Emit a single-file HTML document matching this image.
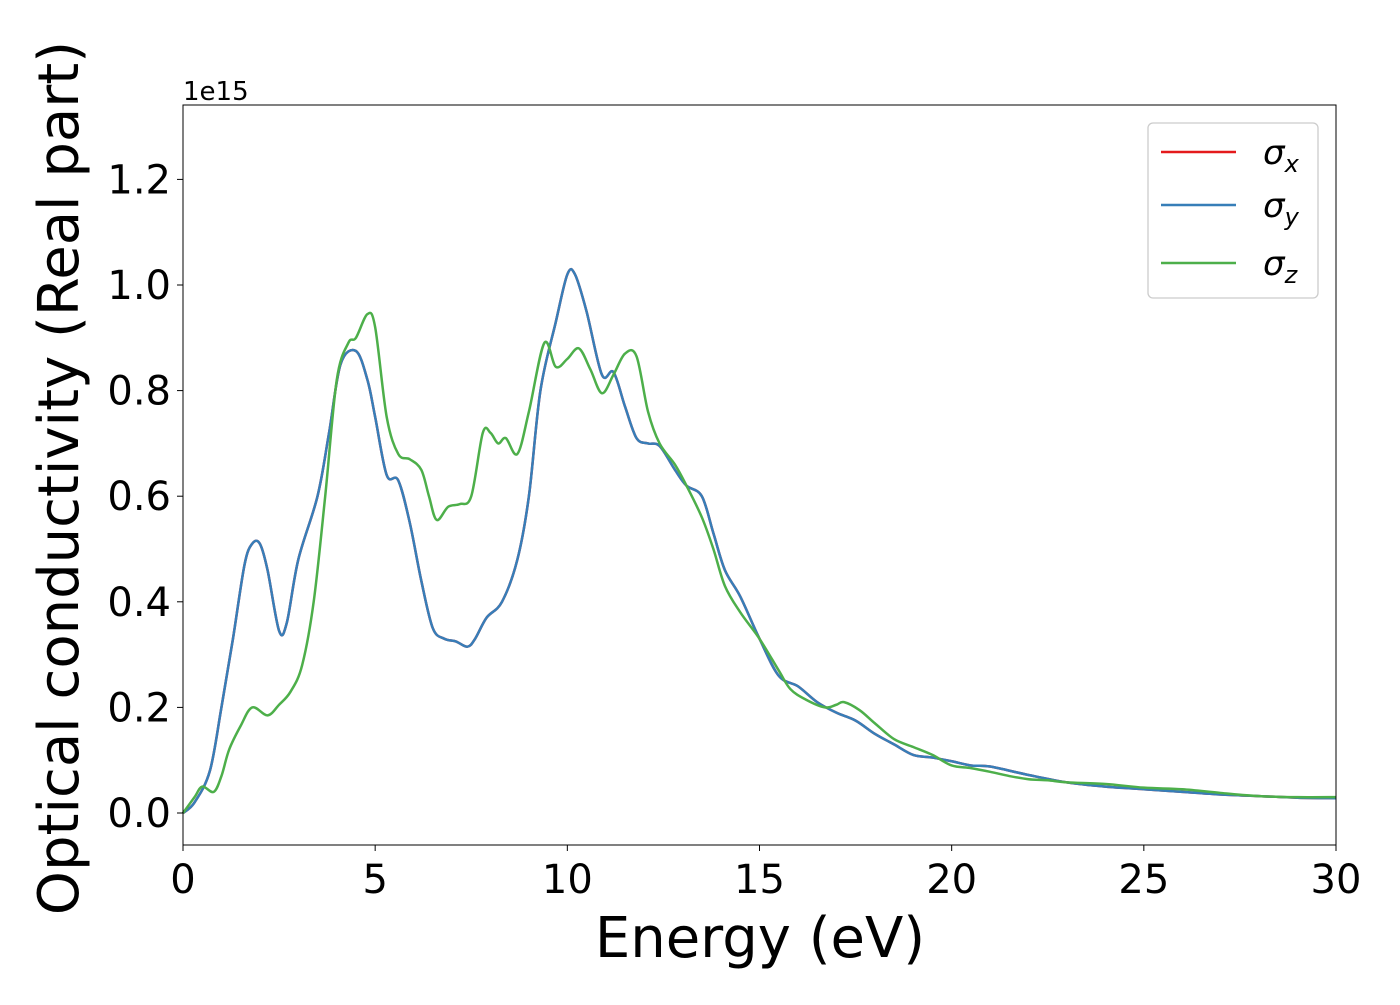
<!DOCTYPE html>
<html><head><meta charset="utf-8"><style>
body{margin:0;background:#fff;}
svg text{font-family:"DejaVu Sans","Liberation Sans",sans-serif;fill:#000;}
</style></head><body>
<svg id="chart" width="1400" height="1000">
<rect width="1400" height="1000" fill="#fff"/>
<g id="plot"></g>
<g id="axes"></g>
<text x="183" y="100" font-size="26">1e15</text>
<text x="760" y="957" font-size="56" text-anchor="middle">Energy (eV)</text>
<text transform="translate(78,478) rotate(-90)" font-size="56" text-anchor="middle">Optical conductivity (Real part)</text>
<g>
<rect x="1148" y="123" width="170" height="175" rx="5" fill="#fff" stroke="#ccc" stroke-width="1.3"/>
<line x1="1161" y1="152" x2="1236" y2="152" stroke="#e41a1c" stroke-width="2.5"/>
<line x1="1161" y1="205" x2="1236" y2="205" stroke="#377eb8" stroke-width="2.5"/>
<line x1="1161" y1="263" x2="1236" y2="263" stroke="#4daf4a" stroke-width="2.5"/>
<text x="1263" y="164" font-size="34" font-style="italic">σ<tspan font-size="24" dy="8">x</tspan></text>
<text x="1263" y="217" font-size="34" font-style="italic">σ<tspan font-size="24" dy="8">y</tspan></text>
<text x="1263" y="275" font-size="34" font-style="italic">σ<tspan font-size="24" dy="8">z</tspan></text>
</g>
</svg>
<script>
const xyE=[0,0.3,0.7,1.0,1.3,1.6,1.8,2.0,2.2,2.5,2.7,3.0,3.5,3.8,4.1,4.5,4.8,5.0,5.3,5.6,5.9,6.2,6.5,6.8,7.1,7.4,7.6,7.9,8.3,8.7,9.0,9.3,9.7,10.0,10.2,10.5,10.9,11.2,11.5,11.8,12.1,12.4,12.8,13.1,13.5,13.8,14.1,14.5,15.0,15.5,16.0,16.5,17.0,17.5,18.0,18.5,19.0,19.5,20.0,20.5,21,22,23,24,25,26,27,28,29,30];
const xyV=[0,0.02,0.08,0.2,0.33,0.47,0.51,0.51,0.46,0.345,0.36,0.48,0.6,0.72,0.85,0.875,0.82,0.75,0.64,0.63,0.55,0.44,0.35,0.33,0.325,0.315,0.33,0.37,0.4,0.48,0.6,0.8,0.93,1.02,1.02,0.95,0.83,0.835,0.77,0.71,0.7,0.695,0.65,0.62,0.6,0.53,0.46,0.41,0.33,0.26,0.24,0.21,0.19,0.175,0.15,0.13,0.11,0.105,0.098,0.09,0.088,0.072,0.058,0.05,0.045,0.04,0.035,0.032,0.029,0.028];
const zE=[0,0.3,0.5,0.8,1.0,1.2,1.5,1.8,2.2,2.5,2.8,3.1,3.4,3.7,4.0,4.3,4.5,4.8,5.0,5.3,5.6,5.9,6.2,6.4,6.6,6.9,7.2,7.5,7.8,8.0,8.2,8.4,8.7,9.0,9.4,9.7,10.0,10.3,10.6,10.9,11.2,11.5,11.8,12.1,12.4,12.8,13.1,13.5,13.8,14.1,14.5,15.0,15.5,15.8,16.2,16.7,17.0,17.2,17.6,18.0,18.5,19.0,19.5,20.0,20.5,21,21.5,22,22.5,23,24,25,26,27,28,29,30];
const zV=[0,0.03,0.05,0.04,0.07,0.12,0.165,0.2,0.185,0.205,0.23,0.28,0.4,0.6,0.82,0.89,0.9,0.945,0.92,0.75,0.68,0.67,0.65,0.6,0.555,0.58,0.585,0.6,0.72,0.72,0.7,0.71,0.68,0.76,0.89,0.845,0.86,0.88,0.84,0.795,0.83,0.87,0.865,0.76,0.7,0.66,0.62,0.56,0.5,0.43,0.38,0.33,0.27,0.235,0.215,0.2,0.205,0.21,0.195,0.17,0.14,0.125,0.11,0.09,0.085,0.078,0.07,0.064,0.062,0.058,0.055,0.048,0.045,0.038,0.032,0.03,0.03];
const xTicks=[0,5,10,15,20,25,30];
const yTicks=[0.0,0.2,0.4,0.6,0.8,1.0,1.2];
const yTickLabels=["0.0","0.2","0.4","0.6","0.8","1.0","1.2"];
const NS="http://www.w3.org/2000/svg";
const L=183,R=1336,T=105,B=845;
const xs=e=>L+(e-0)/(30-0)*(R-L);
const ys=v=>813-v*528;
function path(E,V){
  const p=E.map((e,i)=>[xs(e),ys(V[i])]);
  let d=`M${p[0][0]},${p[0][1]}`;
  for(let i=0;i<p.length-1;i++){
    const p0=p[Math.max(i-1,0)],p1=p[i],p2=p[i+1],p3=p[Math.min(i+2,p.length-1)];
    const c1=[p1[0]+(p2[0]-p0[0])/6,p1[1]+(p2[1]-p0[1])/6];
    const c2=[p2[0]-(p3[0]-p1[0])/6,p2[1]-(p3[1]-p1[1])/6];
    d+=` C${c1[0]},${c1[1]} ${c2[0]},${c2[1]} ${p2[0]},${p2[1]}`;
  }
  return d;
}
const plot=document.getElementById('plot');
[["#e41a1c",xyE,xyV,"series-sigma-x"],["#377eb8",xyE,xyV,"series-sigma-y"],["#4daf4a",zE,zV,"series-sigma-z"]].forEach(s=>{
  const el=document.createElementNS(NS,'path');
  el.setAttribute('d',path(s[1],s[2]));
  el.setAttribute('fill','none');el.setAttribute('stroke',s[0]);el.setAttribute('stroke-width','2.5');
  
  
  plot.appendChild(el);
});
const ax=document.getElementById('axes');
const fr=document.createElementNS(NS,'rect');
fr.setAttribute('x',L);fr.setAttribute('y',T);fr.setAttribute('width',R-L);fr.setAttribute('height',B-T);
fr.setAttribute('fill','none');fr.setAttribute('stroke','#000');fr.setAttribute('stroke-width','1');


ax.appendChild(fr);
xTicks.forEach(t=>{
  const l=document.createElementNS(NS,'line');
  l.setAttribute('x1',xs(t));l.setAttribute('x2',xs(t));l.setAttribute('y1',B);l.setAttribute('y2',B+6);l.setAttribute('stroke','#000');
  
  
  ax.appendChild(l);
  const tx=document.createElementNS(NS,'text');
  tx.setAttribute('x',xs(t));tx.setAttribute('y',893);tx.setAttribute('font-size','40');tx.setAttribute('text-anchor','middle');
  tx.textContent=t;
  
  
  ax.appendChild(tx);
});
yTicks.forEach((t,i)=>{
  const l=document.createElementNS(NS,'line');
  l.setAttribute('x1',L-6);l.setAttribute('x2',L);l.setAttribute('y1',ys(t));l.setAttribute('y2',ys(t));l.setAttribute('stroke','#000');
  
  
  ax.appendChild(l);
  const tx=document.createElementNS(NS,'text');
  tx.setAttribute('x',171);tx.setAttribute('y',ys(t)+14);tx.setAttribute('font-size','40');tx.setAttribute('text-anchor','end');
  tx.textContent=yTickLabels[i];
  
  
  ax.appendChild(tx);
});
</script>
</body></html>
